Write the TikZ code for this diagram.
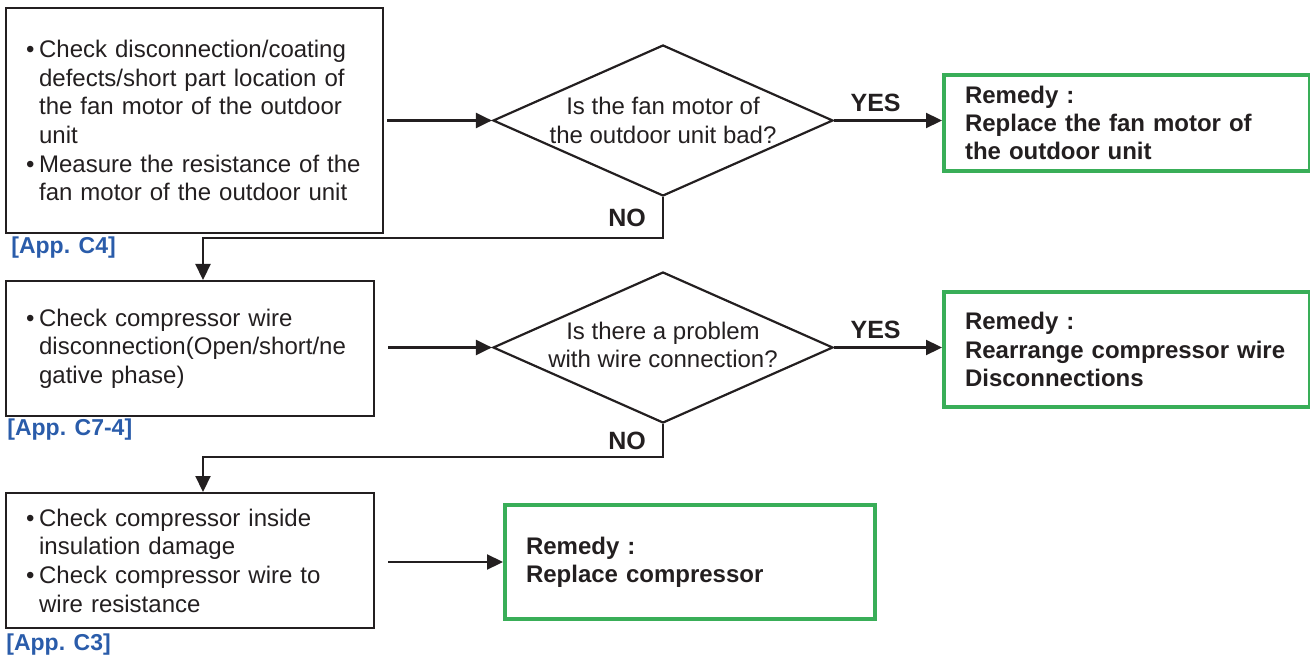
\documentclass[tikz,border=0pt]{standalone}
\usepackage{fontspec}
\setmainfont{Liberation Sans}
\usetikzlibrary{shapes.geometric,arrows.meta}
\definecolor{ink}{RGB}{35,31,32}
\definecolor{remgreen}{RGB}{57,174,88}
\definecolor{appblue}{RGB}{42,92,170}
\newcommand\bitem{\makebox[6.5pt][l]{•}}
\newcommand\contline{\hspace*{6.5pt}}
\begin{document}
\begin{tikzpicture}[x=0.5pt,y=-0.5pt,
 every node/.style={text=ink},
 checkbox/.style={draw=ink, line width=1.1pt, anchor=north west, align=left, inner xsep=10pt, inner ysep=0pt, font=\fontsize{12pt}{14.3pt}\selectfont},
 remedy/.style={draw=remgreen, line width=2pt, anchor=north west, align=left, inner xsep=10.5pt, inner ysep=0pt, font=\bfseries\fontsize{12pt}{14.2pt}\selectfont},
 decision/.style={draw=ink, line width=1.1pt, shape=diamond, minimum width=170pt, minimum height=75.5pt, inner sep=0pt},
 qtext/.style={align=center, font=\fontsize{12pt}{14.3pt}\selectfont, inner sep=0pt},
 applabel/.style={text=appblue, anchor=west, inner sep=0pt, font=\bfseries\fontsize{11.5pt}{13pt}\selectfont},
 answer/.style={font=\bfseries\fontsize{12.5pt}{14pt}\selectfont, inner sep=0pt},
 arr/.style={draw=ink, line width=1.1pt, -{Triangle[length=8pt,width=7.5pt]}}
]
\useasboundingbox (0,0) rectangle (1310,657);

% check boxes
\node[checkbox, text width=168.5pt, minimum height=112.5pt] (b1) at (5,7)
 {\bitem Check disconnection/coating\\ \contline defects/short part location of\\ \contline the fan motor of the outdoor\\ \contline unit\\ \bitem Measure the resistance of the\\ \contline fan motor of the outdoor unit};
\node[checkbox, text width=164pt, minimum height=67.5pt] (b2) at (5,280)
 {\bitem Check compressor wire\\ \contline disconnection(Open/short/ne\\ \contline gative phase)};
\node[checkbox, text width=164pt, minimum height=67.5pt] (b3) at (5,492)
 {\bitem Check compressor inside\\ \contline insulation damage\\ \bitem Check compressor wire to\\ \contline wire resistance};

% labels
\node[applabel] (a1) at (11,248) {[App. C4]};
\node[applabel] (a2) at (7,430) {[App. C7-4]};
\node[applabel] (a3) at (6,645) {[App. C3]};

% decisions
\node[decision] (d1) at (663,120.5) {};
\node[qtext] (q1) at (d1.center) {Is the fan motor of\\the outdoor unit bad?};
\node[decision] (d2) at (663,347.5) {};
\node[qtext] (q2) at ([yshift=1.25pt]d2.center) {Is there a problem\\with wire connection?};

% remedies
\node[remedy, text width=162pt, minimum height=48pt] (g1) at (942,73)
 {Remedy :\\Replace the fan motor of\\the outdoor unit};
\node[remedy, text width=162pt, minimum height=57.5pt] (g2) at (942,290)
 {Remedy :\\Rearrange compressor wire\\Disconnections};
\node[remedy, text width=164pt, minimum height=57pt] (g3) at (503,503)
 {Remedy :\\Replace compressor};

% corner points
\coordinate (c1) at (203,238);
\coordinate (c2) at (203,457);

% connectors
\draw[arr, shorten <=1.5pt] (b1.east |- d1.west) -- (d1.west);
\draw[arr] (d1.east) -- node[answer, pos=0.385, above=4pt] (y1) {YES} (g1.west |- d1.east);
\draw[arr] (d1.south) |- node[answer, pos=0.25, left=8pt] (n1) {NO} (c1) -- (c1 |- b2.north);

\draw[arr, shorten <=6.5pt] (b2.east |- d2.west) -- (d2.west);
\draw[arr] (d2.east) -- node[answer, pos=0.385, above=4pt] (y2) {YES} (g2.west |- d2.east);
\draw[arr] (d2.south) |- node[answer, pos=0.25, left=8pt] (n2) {NO} (c2) -- (c2 |- b3.north);

\draw[arr, shorten <=6.5pt] (b3.east |- g3.west) -- (g3.west);
\end{tikzpicture}
\end{document}
